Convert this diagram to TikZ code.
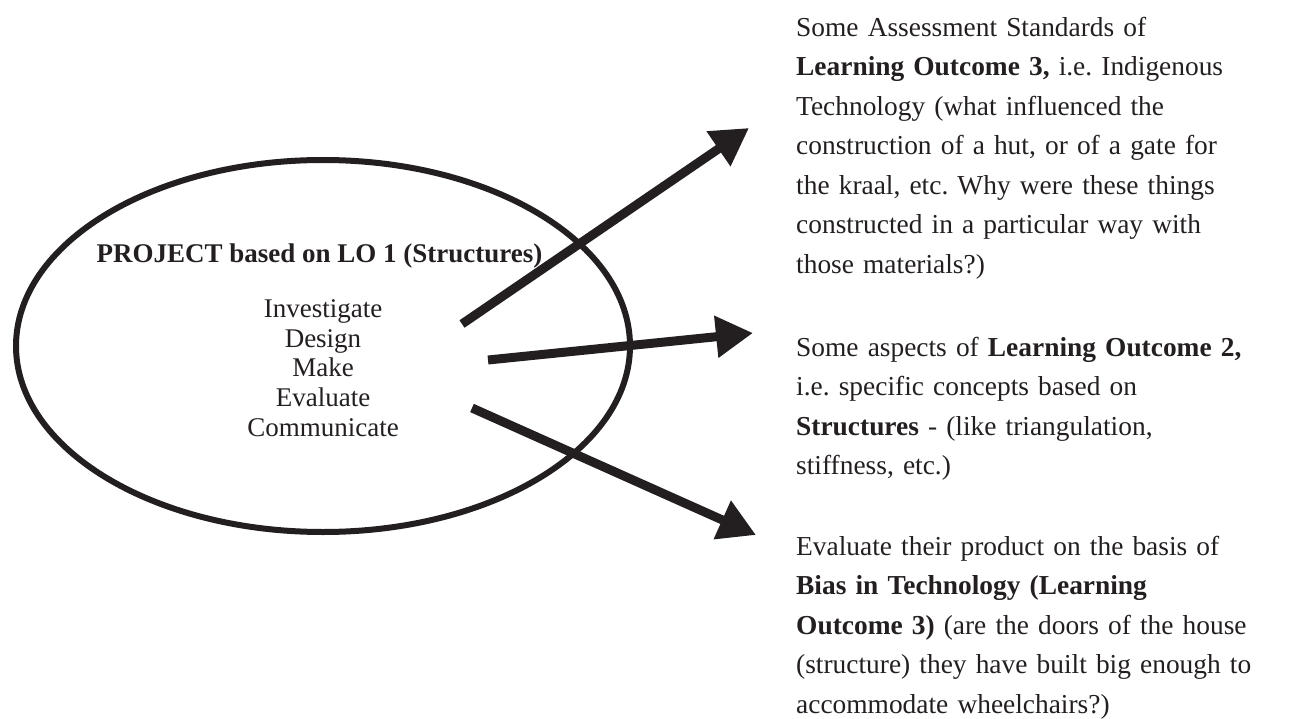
\documentclass[tikz,border=0pt]{standalone}
\usepackage{fontspec}
\setmainfont{Liberation Serif}
\usetikzlibrary{arrows.meta,shapes.geometric}
\definecolor{ink}{RGB}{35,31,32}
\frenchspacing
\begin{document}
\begin{tikzpicture}[x=1pt,y=-1pt,
  every node/.style={text=ink,inner sep=0pt},
  outcome/.style={anchor=north west,text width=480pt,align=left,
    font=\fontsize{27.4}{39.5}\selectfont},
  link/.style={draw=ink,line width=9pt,-{Triangle[length=37pt,width=40pt]}}]
\useasboundingbox (0,0) rectangle (1289,719);
\node[ellipse,draw=ink,line width=6pt,minimum width=614pt,minimum height=372pt] (project) at (323,346) {};
\node[anchor=base,font=\fontsize{27}{30}\selectfont\bfseries] (title) at (319.5,262) {PROJECT based on LO 1 (Structures)};
\node[align=center,font=\fontsize{27}{29.7}\selectfont] (steps) at (323,368) {Investigate\\Design\\Make\\Evaluate\\Communicate};
\node[outcome] (lo3) at (796,8.4) {\strut Some Assessment Standards of\\
  \textbf{Learning Outcome 3,} i.e. Indigenous\\
  Technology (what influenced the\\
  construction of a hut, or of a gate for\\
  the kraal, etc. Why were these things\\
  constructed in a particular way with\\
  those materials?)};
\node[outcome] (lo2) at (796,328.4) {\strut Some aspects of \textbf{Learning Outcome 2,}\\
  i.e. specific concepts based on\\
  \textbf{Structures} - (like triangulation,\\
  stiffness, etc.)};
\node[outcome] (bias) at (796,527.4) {\strut Evaluate their product on the basis of\\
  \textbf{Bias in Technology (Learning}\\
  \textbf{Outcome 3)} (are the doors of the house\\
  (structure) they have built big enough to\\
  accommodate wheelchairs?)};
\coordinate (tail3) at (462,324);
\coordinate (tip3) at (749,128);
\coordinate (tail2) at (488,360);
\coordinate (tip2) at (753,333);
\coordinate (tailbias) at (472,408);
\coordinate (tipbias) at (756,535);
\draw[link] (tail3) -- (tip3);
\draw[link] (tail2) -- (tip2);
\draw[link] (tailbias) -- (tipbias);
\end{tikzpicture}
\end{document}
